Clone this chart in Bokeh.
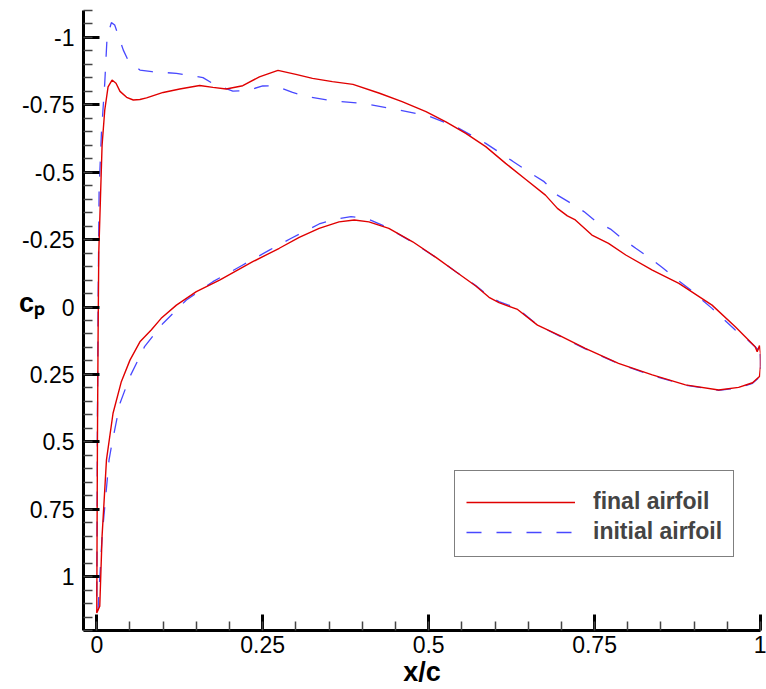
from bokeh.plotting import figure
from bokeh.models import Range1d, FixedTicker, CustomJSTickFormatter
from bokeh.embed import file_html
from bokeh.resources import INLINE
import numpy as np

# ---- data ----
final_upper_x = [0.0, 0.0005, 0.001, 0.002, 0.003, 0.0055, 0.008, 0.012, 0.017, 0.023, 0.029, 0.035,
                 0.045, 0.055, 0.065, 0.075, 0.1, 0.125, 0.155, 0.175, 0.195, 0.22, 0.245, 0.273,
                 0.30, 0.325, 0.355, 0.386, 0.426, 0.46, 0.496, 0.526, 0.556, 0.586, 0.616, 0.646,
                 0.676, 0.694, 0.709, 0.721, 0.746, 0.771, 0.797, 0.837, 0.877, 0.927, 0.962,
                 0.992, 0.995, 0.9985, 1.0, 1.0]
final_upper_cp = [1.135, 0.8, 0.5, 0.1, -0.2, -0.4, -0.6, -0.73, -0.817, -0.842, -0.83, -0.80,
                  -0.778, -0.768, -0.77, -0.776, -0.796, -0.809, -0.822, -0.815, -0.809, -0.821, -0.854, -0.878,
                  -0.863, -0.848, -0.836, -0.826, -0.793, -0.762, -0.725, -0.687, -0.644, -0.595, -0.533, -0.474,
                  -0.415, -0.366, -0.338, -0.323, -0.267, -0.236, -0.193, -0.137, -0.088, -0.007, 0.073,
                  0.147, 0.166, 0.143, 0.171, 0.221]
final_lower_x = [0.0, 0.0045, 0.008, 0.0146, 0.0245, 0.037, 0.05, 0.065, 0.082, 0.097, 0.12, 0.15,
                 0.185, 0.235, 0.275, 0.305, 0.335, 0.365, 0.388, 0.41, 0.44, 0.476, 0.511, 0.541,
                 0.571, 0.591, 0.606, 0.634, 0.664, 0.696, 0.736, 0.786, 0.837, 0.887, 0.937, 0.967,
                 0.988, 0.9985, 1.0]
final_lower_cp = [1.135, 1.11, 0.85, 0.567, 0.394, 0.277, 0.197, 0.129, 0.085, 0.042, -0.007, -0.057,
                  -0.1, -0.168, -0.218, -0.258, -0.292, -0.316, -0.323, -0.316, -0.292, -0.242, -0.184, -0.131,
                  -0.078, -0.036, -0.016, 0.009, 0.067, 0.104, 0.153, 0.209, 0.252, 0.289, 0.308, 0.298,
                  0.281, 0.258, 0.221]

initial_upper_x = [0.0, 0.0005, 0.001, 0.002, 0.0035, 0.007, 0.012, 0.0155, 0.022, 0.027, 0.04, 0.047,
                   0.065, 0.083, 0.12, 0.135, 0.16, 0.177, 0.205, 0.225, 0.25, 0.265, 0.275, 0.295,
                   0.318, 0.355, 0.403, 0.451, 0.498, 0.541, 0.586, 0.626, 0.656, 0.674, 0.694, 0.711,
                   0.734, 0.751, 0.774, 0.791, 0.812, 0.832, 0.852, 0.869, 0.892, 0.927, 0.962, 0.98,
                   0.993, 0.997, 0.999, 1.0, 1.0]
initial_upper_cp = [1.13, 0.8, 0.4, 0.0, -0.434, -0.644, -0.83, -1.0, -1.055, -1.046, -0.953, -0.916,
                    -0.879, -0.873, -0.867, -0.861, -0.851, -0.826, -0.801, -0.802, -0.82, -0.821, -0.815, -0.796,
                    -0.78, -0.765, -0.755, -0.733, -0.71, -0.669, -0.607, -0.542, -0.493, -0.465, -0.415, -0.39,
                    -0.354, -0.32, -0.289, -0.255, -0.218, -0.184, -0.147, -0.112, -0.069, 0.005, 0.085, 0.12,
                    0.15, 0.16, 0.14, 0.2, 0.23]
initial_lower_x = [0.0, 0.002, 0.008, 0.0185, 0.022, 0.035, 0.05, 0.072, 0.1, 0.135, 0.175, 0.22,
                   0.26, 0.293, 0.313, 0.335, 0.358, 0.383, 0.406, 0.43, 0.448, 0.476, 0.511, 0.541,
                   0.571, 0.591, 0.606, 0.634, 0.664, 0.696, 0.736, 0.786, 0.837, 0.887, 0.937, 0.967,
                   0.988, 0.9985, 1.0]
initial_lower_cp = [1.13, 1.12, 0.85, 0.567, 0.518, 0.357, 0.258, 0.147, 0.06, -0.026, -0.094, -0.156,
                    -0.211, -0.255, -0.28, -0.308, -0.325, -0.335, -0.329, -0.304, -0.28, -0.24, -0.184, -0.131,
                    -0.08, -0.04, -0.02, 0.005, 0.067, 0.106, 0.155, 0.21, 0.254, 0.29, 0.309, 0.3,
                    0.283, 0.26, 0.23]

x_ticks = [0, 0.25, 0.5, 0.75, 1]
y_ticks = [-1, -0.75, -0.5, -0.25, 0, 0.25, 0.5, 0.75, 1]
series_names = ["final airfoil", "initial airfoil"]
x_title = "x/c"
y_title = "c\u209a"

# ---- layout constants ----
W, H = 766, 689
FL, FR, FT, FB = 83, 760, 10, 630   # frame edges in canvas px
X0, X1 = -0.02, 1.0
Y_TOP, Y_BOT = -1.1, 1.2

p = figure(width=W, height=H, output_backend="svg", toolbar_location=None,
           x_range=Range1d(X0, X1), y_range=Range1d(Y_BOT, Y_TOP),
           min_border_left=FL, min_border_right=W - FR, min_border_top=FT,
           min_border_bottom=H - FB)
p.xgrid.visible = False
p.ygrid.visible = False
p.outline_line_color = None
p.background_fill_color = "white"
p.border_fill_color = "white"

fx = final_upper_x[::-1] + final_lower_x[1:]
fy = final_upper_cp[::-1] + final_lower_cp[1:]
ix = initial_upper_x[::-1] + initial_lower_x[1:]
iy = initial_upper_cp[::-1] + initial_lower_cp[1:]

p.line(ix, iy, line_color="#4848ff", line_width=1.3, line_dash="15 15",
       legend_label=series_names[1])
p.line(fx, fy, line_color="#e00000", line_width=1.4, legend_label=series_names[0])

x_minor = list(np.round(np.arange(0, 1.0001, 0.05), 2))
y_minor = list(np.round(np.arange(-1.1, 1.2001, 0.05), 2))
p.xaxis.ticker = FixedTicker(ticks=x_ticks, minor_ticks=x_minor)
p.yaxis.ticker = FixedTicker(ticks=y_ticks, minor_ticks=y_minor)
fmt = "return String(Math.round(tick*100)/100);"
p.xaxis.formatter = CustomJSTickFormatter(code=fmt)
p.yaxis.formatter = CustomJSTickFormatter(code=fmt)

for ax in (p.xaxis[0], p.yaxis[0]):
    ax.axis_line_width = 3
    ax.axis_line_color = "black"
    ax.major_tick_line_width = 3
    ax.major_tick_line_color = "black"
    ax.major_tick_in = 16
    ax.major_tick_out = 0
    ax.minor_tick_line_width = 1.5
    ax.minor_tick_line_color = "#444444"
    ax.minor_tick_in = 9
    ax.minor_tick_out = 0
    ax.major_label_text_font = "Liberation Sans"
    ax.major_label_text_font_size = "23px"
    ax.major_label_text_color = "black"
    ax.axis_label_text_font = "Liberation Sans"
    ax.axis_label_text_font_style = "bold"
    ax.axis_label_text_font_size = "27px"
    ax.axis_label_text_color = "black"
p.xaxis.major_label_standoff = 5
p.yaxis.major_label_standoff = 9

p.xaxis.axis_label = x_title
p.xaxis.axis_label_standoff = 1
p.yaxis.axis_label = y_title + "\n"
p.yaxis.axis_label_orientation = "horizontal"
p.yaxis.axis_label_standoff = -26

lg = p.legend[0]
lg.items = lg.items[::-1]
lg.location = (371, 73)
lg.title = " "
lg.title_text_font_size = "6px"
lg.title_standoff = 0
lg.border_line_color = "black"
lg.border_line_width = 1
lg.background_fill_color = "white"
lg.padding = 11
lg.margin = 0
lg.spacing = 3
lg.glyph_width = 109
lg.glyph_height = 24
lg.label_height = 24
lg.label_standoff = 18
lg.label_text_font = "Liberation Sans"
lg.label_text_font_style = "bold"
lg.label_text_font_size = "23px"

open("out.html", "w").write(file_html(p, INLINE))
